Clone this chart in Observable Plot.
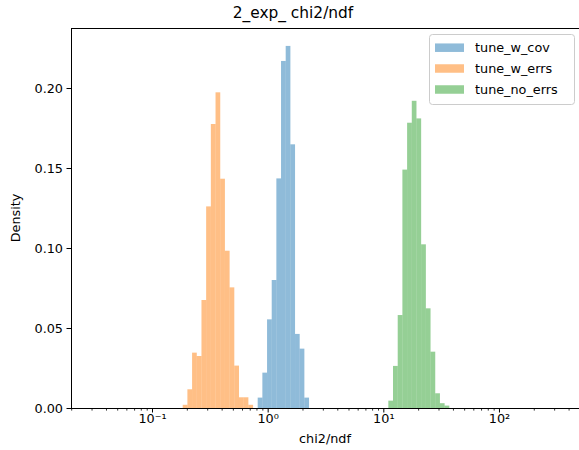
<!DOCTYPE html>
<html>
<head>
<meta charset="utf-8">
<script src="https://cdn.jsdelivr.net/npm/d3@7"></script>
<script src="https://cdn.jsdelivr.net/npm/@observablehq/plot@0.6"></script>
<style>
  body { margin: 0; background: #fff; }
  #wrap { position: relative; width: 579px; height: 450px; font-family: "DejaVu Sans", sans-serif; }
  #overlay { position: absolute; left: 0; top: 0; pointer-events: none; }
</style>
</head>
<body>
<div id="wrap"><div id="chart"></div></div>
<script>
// ---- data ----
const title = "2_exp_ chi2/ndf";
const xLabel = "chi2/ndf";
const yLabel = "Density";
const seriesNames = ["tune_w_cov", "tune_w_errs", "tune_no_errs"];
const seriesColors = ["#1f77b4", "#ff7f0e", "#2ca02c"];

// tune_w_cov: bin edges and densities
const covEdges = [0.820, 0.900, 0.988, 1.084, 1.189, 1.305, 1.432, 1.572, 1.725, 1.892, 2.077, 2.279];
const covDensity = [0.0065, 0.0221, 0.0554, 0.0800, 0.1435, 0.2169, 0.2263, 0.1648, 0.0463, 0.0371, 0.0065];

// tune_w_errs
const errsEdges = [0.1843, 0.2023, 0.2221, 0.2438, 0.2677, 0.2938, 0.3227, 0.3542, 0.3890, 0.4270, 0.4688, 0.5147, 0.5651, 0.6204, 0.6811, 0.7478];
const errsDensity = [0.0020, 0.0117, 0.0346, 0.0325, 0.0675, 0.1260, 0.1775, 0.1973, 0.1433, 0.0983, 0.0754, 0.0265, 0.0067, 0.0067, 0.0020];

// tune_no_errs
const noErrsEdges = [11.05, 12.13, 13.32, 14.62, 16.06, 17.63, 19.35, 21.24, 23.33, 25.61, 28.12, 30.87, 33.89, 37.21];
const noErrsDensity = [0.0046, 0.0263, 0.0581, 0.1490, 0.1783, 0.1920, 0.1810, 0.1023, 0.0623, 0.0352, 0.0092, 0.0030, 0.0015];

const xDomain = [0.01993, 492.1];
const yDomain = [0, 0.2375];
const yTicks = [0, 0.05, 0.10, 0.15, 0.20];
const xMajorTicks = [0.1, 1, 10, 100];
const xMajorLabels = ["10\u207B\u00B9", "10\u2070", "10\u00B9", "10\u00B2"];
const xMinorTicks = [0.02,0.03,0.04,0.05,0.06,0.07,0.08,0.09,
                     0.2,0.3,0.4,0.5,0.6,0.7,0.8,0.9,
                     2,3,4,5,6,7,8,9,
                     20,30,40,50,60,70,80,90,
                     200,300,400];

// ---- build table ----
function toBins(name, edges, dens) {
  return dens.map((d, i) => ({series: name, x1: edges[i], x2: edges[i + 1], d}));
}
const bins = [
  ...toBins(seriesNames[0], covEdges, covDensity),
  ...toBins(seriesNames[1], errsEdges, errsDensity),
  ...toBins(seriesNames[2], noErrsEdges, noErrsDensity)
];

const W = 579, H = 450;
const chart = Plot.plot({
  width: W,
  height: H,
  marginLeft: 71,
  marginRight: 0,
  marginTop: 28,
  marginBottom: 42,
  style: {fontFamily: "DejaVu Sans", fontSize: "12.8px", color: "#000", background: "transparent", overflow: "visible"},
  x: {type: "log", domain: xDomain, axis: null},
  y: {domain: yDomain, axis: null},
  color: {domain: seriesNames, range: seriesColors},
  marks: [
    Plot.rect(bins, {x1: "x1", x2: "x2", y1: 0, y2: "d", fill: "series", fillOpacity: 0.5, inset: 0}),
    Plot.axisY({ticks: yTicks, tickFormat: d3.format(".2f"), tickSize: 4.5, tickPadding: 4, label: null, strokeWidth: 1}),
    Plot.axisX({ticks: xMinorTicks, tickFormat: () => "", tickSize: 2.6, label: null, strokeWidth: 0.8}),
    Plot.axisX({ticks: xMajorTicks, tickFormat: (d) => xMajorLabels[xMajorTicks.indexOf(d)], tickSize: 4.5, tickPadding: 1, label: null, strokeWidth: 1}),
    Plot.ruleX([xDomain[0]], {stroke: "#000", strokeWidth: 1}),
    Plot.ruleY([yDomain[0], yDomain[1]], {stroke: "#000", strokeWidth: 1})
  ]
});
document.getElementById("chart").appendChild(chart);

// ---- title, axis labels, legend overlay ----
const ov = d3.select("#wrap").append("svg")
  .attr("id", "overlay").attr("width", W).attr("height", H)
  .style("font-family", "DejaVu Sans");
ov.append("text").attr("x", 293).attr("y", 17.5).attr("text-anchor", "middle")
  .attr("font-size", 15.4).text(title);
ov.append("text").attr("x", 325).attr("y", 443).attr("text-anchor", "middle")
  .attr("font-size", 12.8).text(xLabel);
ov.append("text").attr("transform", "translate(20,218) rotate(-90)").attr("text-anchor", "middle")
  .attr("font-size", 12.8).text(yLabel);

const lg = ov.append("g");
lg.append("rect").attr("x", 429.5).attr("y", 34.5).attr("width", 145).attr("height", 70)
  .attr("rx", 3).attr("fill", "#fff").attr("fill-opacity", 0.8).attr("stroke", "#cccccc");
const rowY = [47.7, 68.5, 89.5];
seriesNames.forEach((n, i) => {
  lg.append("rect").attr("x", 435).attr("y", rowY[i] - 4.25).attr("width", 29).attr("height", 8.5)
    .attr("fill", seriesColors[i]).attr("fill-opacity", 0.5);
  lg.append("text").attr("x", 475).attr("y", rowY[i] + 4.6).attr("font-size", 12.8).text(n);
});
</script>
</body>
</html>
